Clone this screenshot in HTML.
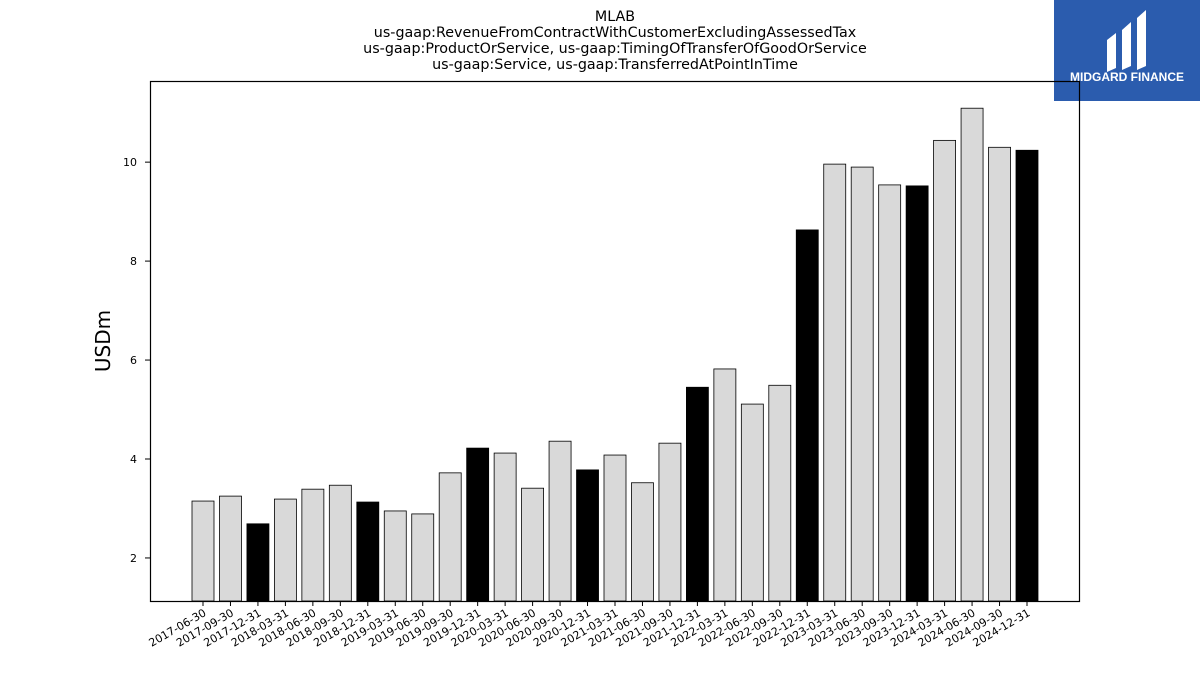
<!DOCTYPE html>
<html><head><meta charset="utf-8"><style>
body{margin:0;background:#fff;width:1200px;height:675px;overflow:hidden;font-family:"Liberation Sans","DejaVu Sans",sans-serif;}
</style></head><body>
<svg width="1200" height="675" xmlns="http://www.w3.org/2000/svg">
<g font-size="14.3" text-anchor="middle" fill="#000" font-family="DejaVu Sans, Liberation Sans, sans-serif">
<text x="615" y="21">MLAB</text>
<text x="615" y="37">us-gaap:RevenueFromContractWithCustomerExcludingAssessedTax</text>
<text x="615" y="53">us-gaap:ProductOrService, us-gaap:TimingOfTransferOfGoodOrService</text>
<text x="615" y="69">us-gaap:Service, us-gaap:TransferredAtPointInTime</text>
</g>
<g>
<rect x="1054" y="0" width="146" height="101" fill="#2b5cae"/>
<path d="M1107 40 L1116 33 L1116 68 L1107 72 Z M1122 30 L1131 22 L1131 66 L1122 70 Z M1137 18 L1146 10 L1146 66 L1137 70 Z" fill="#fff"/>
<text x="1127" y="81" font-size="12" font-weight="bold" fill="#fff" text-anchor="middle">MIDGARD FINANCE</text>
</g>
<g id="bars"></g>
<g id="yaxis" font-size="11" font-family="DejaVu Sans, Liberation Sans, sans-serif"></g>
<g id="xaxis" font-size="11" font-family="DejaVu Sans, Liberation Sans, sans-serif"></g>
<rect x="150.5" y="81.5" width="929" height="520" fill="none" stroke="#000" stroke-width="1.2"/>
<text x="0" y="0" font-size="20" transform="translate(110,341) rotate(-90)" text-anchor="middle" font-family="DejaVu Sans, Liberation Sans, sans-serif">USDm</text>
</svg>
<script>
const categories=["2017-06-30","2017-09-30","2017-12-31","2018-03-31","2018-06-30","2018-09-30","2018-12-31","2019-03-31","2019-06-30","2019-09-30","2019-12-31","2020-03-31","2020-06-30","2020-09-30","2020-12-31","2021-03-31","2021-06-30","2021-09-30","2021-12-31","2022-03-31","2022-06-30","2022-09-30","2022-12-31","2023-03-31","2023-06-30","2023-09-30","2023-12-31","2024-03-31","2024-06-30","2024-09-30","2024-12-31"];
const values=[3.15,3.25,2.69,3.19,3.39,3.47,3.13,2.95,2.89,3.72,4.22,4.12,3.41,4.36,3.78,4.08,3.52,4.32,5.45,5.82,5.11,5.49,8.63,9.96,9.90,9.54,9.52,10.44,11.09,10.30,10.24];
const yTicks=[2,4,6,8,10];
const NS="http://www.w3.org/2000/svg";
const yMin=1.13,yMax=11.64,yTop=81,yBot=601;
const yS=v=>yBot-(v-yMin)/(yMax-yMin)*(yBot-yTop);
const xFirst=203,xLast=1027;
const xS=i=>xFirst+i*(xLast-xFirst)/(categories.length-1);
const bw=22;
const bars=document.getElementById('bars'),xa=document.getElementById('xaxis'),ya=document.getElementById('yaxis');
categories.forEach((c,i)=>{
 const r=document.createElementNS(NS,'rect');
 
 
 r.setAttribute('x',xS(i)-bw/2);r.setAttribute('y',yS(values[i]));
 r.setAttribute('width',bw);r.setAttribute('height',yBot-yS(values[i]));
 r.setAttribute('fill',c.endsWith('12-31')?'#000':'#d9d9d9');
 r.setAttribute('stroke','#000');r.setAttribute('stroke-width','0.8');
 bars.appendChild(r);
 const t=document.createElementNS(NS,'line');
 
 
 t.setAttribute('x1',xS(i));t.setAttribute('x2',xS(i));t.setAttribute('y1',yBot);t.setAttribute('y2',yBot+5);t.setAttribute('stroke','#000');
 xa.appendChild(t);
 const l=document.createElementNS(NS,'text');
 
 
 l.setAttribute('text-anchor','end');
 l.setAttribute('transform','translate('+(xS(i)+4)+','+(yBot+14)+') rotate(-30)');
 l.textContent=c;xa.appendChild(l);
});
yTicks.forEach(v=>{
 const t=document.createElementNS(NS,'line');
 
 
 t.setAttribute('x1',145);t.setAttribute('x2',150);t.setAttribute('y1',yS(v));t.setAttribute('y2',yS(v));t.setAttribute('stroke','#000');
 ya.appendChild(t);
 const l=document.createElementNS(NS,'text');
 
 
 l.setAttribute('text-anchor','end');l.setAttribute('x',137);l.setAttribute('y',yS(v)+4);
 l.textContent=v;ya.appendChild(l);
});
</script>
</body></html>
